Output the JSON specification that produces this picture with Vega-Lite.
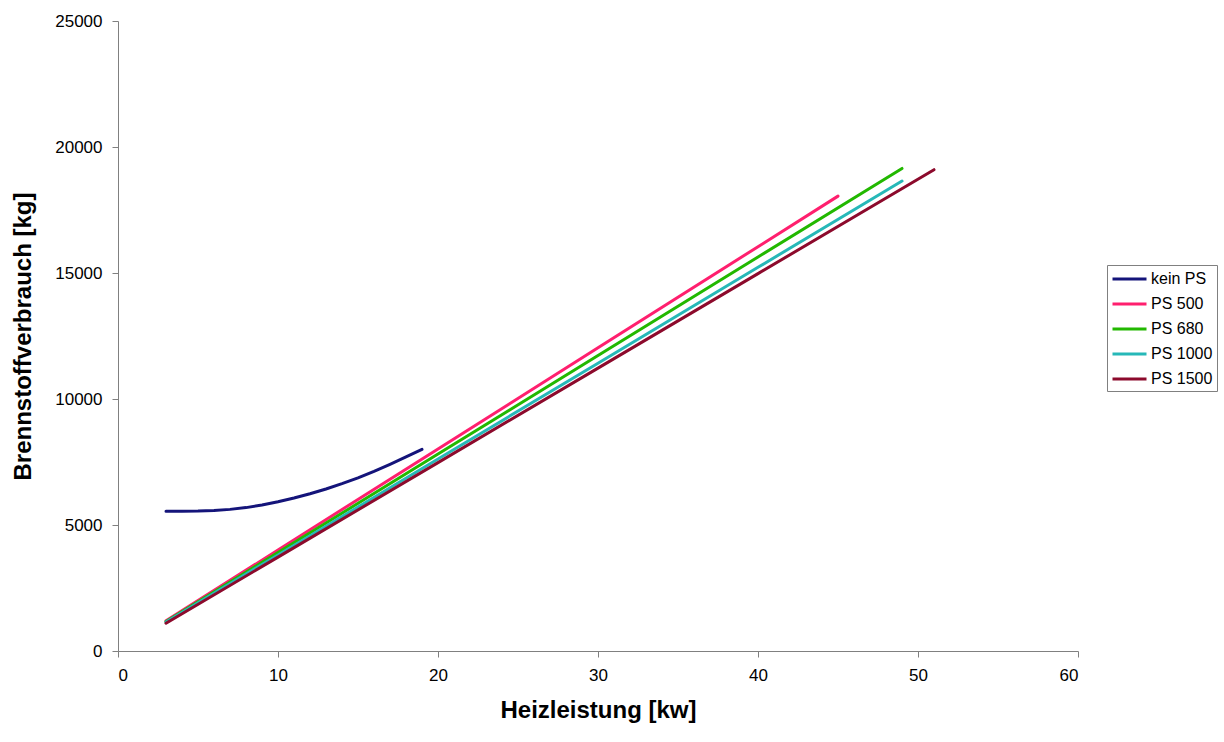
{
  "$schema": "https://vega.github.io/schema/vega-lite/v6.json",
  "autosize": "none",
  "width": 960,
  "height": 630,
  "padding": {"left": 118, "top": 21, "right": 146, "bottom": 91},
  "background": "white",
  "config": {
    "view": {"stroke": null},
    "font": "Liberation Sans"
  },
  "data": {
    "values": [
      {"series": "kein PS", "x": 3, "y": 5550},
      {"series": "kein PS", "x": 4, "y": 5550},
      {"series": "kein PS", "x": 5, "y": 5555},
      {"series": "kein PS", "x": 6, "y": 5575},
      {"series": "kein PS", "x": 7, "y": 5620},
      {"series": "kein PS", "x": 8, "y": 5690},
      {"series": "kein PS", "x": 9, "y": 5790},
      {"series": "kein PS", "x": 10, "y": 5920},
      {"series": "kein PS", "x": 11, "y": 6070},
      {"series": "kein PS", "x": 12, "y": 6240},
      {"series": "kein PS", "x": 13, "y": 6430},
      {"series": "kein PS", "x": 14, "y": 6640},
      {"series": "kein PS", "x": 15, "y": 6870},
      {"series": "kein PS", "x": 16, "y": 7130},
      {"series": "kein PS", "x": 17, "y": 7410},
      {"series": "kein PS", "x": 18, "y": 7700},
      {"series": "kein PS", "x": 19, "y": 8000},
      {"series": "PS 500", "x": 3, "y": 1200},
      {"series": "PS 500", "x": 10, "y": 4008},
      {"series": "PS 500", "x": 20, "y": 8020},
      {"series": "PS 500", "x": 30, "y": 12032},
      {"series": "PS 500", "x": 40, "y": 16044},
      {"series": "PS 500", "x": 45, "y": 18050},
      {"series": "PS 680", "x": 3, "y": 1170},
      {"series": "PS 680", "x": 10, "y": 3906},
      {"series": "PS 680", "x": 20, "y": 7815},
      {"series": "PS 680", "x": 30, "y": 11724},
      {"series": "PS 680", "x": 40, "y": 15633},
      {"series": "PS 680", "x": 49, "y": 19150},
      {"series": "PS 1000", "x": 3, "y": 1150},
      {"series": "PS 1000", "x": 10, "y": 3813},
      {"series": "PS 1000", "x": 20, "y": 7617},
      {"series": "PS 1000", "x": 30, "y": 11421},
      {"series": "PS 1000", "x": 40, "y": 15225},
      {"series": "PS 1000", "x": 49, "y": 18650},
      {"series": "PS 1500", "x": 3, "y": 1100},
      {"series": "PS 1500", "x": 10, "y": 3725},
      {"series": "PS 1500", "x": 20, "y": 7475},
      {"series": "PS 1500", "x": 30, "y": 11225},
      {"series": "PS 1500", "x": 40, "y": 14975},
      {"series": "PS 1500", "x": 51, "y": 19100}
    ]
  },
  "mark": {"type": "line", "strokeWidth": 3, "strokeCap": "round"},
  "encoding": {
    "x": {
      "field": "x",
      "type": "quantitative",
      "scale": {"domain": [0, 60], "nice": false},
      "axis": {
        "title": "Heizleistung [kw]",
        "values": [0, 10, 20, 30, 40, 50, 60],
        "grid": false,
        "domainColor": "#808080",
        "tickColor": "#808080",
        "tickSize": 6,
        "labelFontSize": 17,
        "labelColor": "#000000",
        "labelPadding": 10,
        "titleFontSize": 24,
        "titleFontWeight": "bold",
        "titleColor": "#000000",
        "titlePadding": 15
      }
    },
    "y": {
      "field": "y",
      "type": "quantitative",
      "scale": {"domain": [0, 25000], "nice": false},
      "axis": {
        "title": "Brennstoffverbrauch [kg]",
        "values": [0, 5000, 10000, 15000, 20000, 25000],
        "format": "d",
        "grid": false,
        "domainColor": "#808080",
        "tickColor": "#808080",
        "tickSize": 6,
        "labelFontSize": 17,
        "labelColor": "#000000",
        "labelPadding": 10,
        "titleFontSize": 24,
        "titleFontWeight": "bold",
        "titleColor": "#000000",
        "titlePadding": 19
      }
    },
    "color": {
      "field": "series",
      "type": "nominal",
      "sort": ["kein PS", "PS 500", "PS 680", "PS 1000", "PS 1500"],
      "scale": {
        "domain": ["kein PS", "PS 500", "PS 680", "PS 1000", "PS 1500"],
        "range": ["#14147a", "#ff1f6e", "#22b800", "#26b8b8", "#8c0a2c"]
      },
      "legend": {
        "title": null,
        "orient": "none",
        "legendX": 989,
        "legendY": 244,
        "symbolType": "M-1,0H3",
        "symbolSize": 289,
        "symbolStrokeWidth": 3,
        "labelFontSize": 16,
        "labelColor": "#000000",
        "rowPadding": 7,
        "padding": 4,
        "strokeColor": "#808080",
        "fillColor": "white",
        "labelOffset": 20
      }
    }
  }
}
